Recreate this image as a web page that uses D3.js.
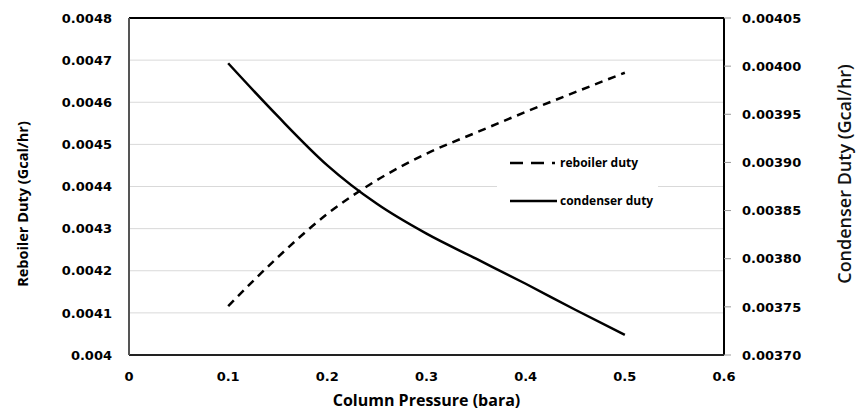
<!DOCTYPE html>
<html>
<head>
<meta charset="utf-8">
<script src="https://cdn.jsdelivr.net/npm/d3@7"></script>
<style>
  body { margin: 0; background: #fff; }
  svg { display: block; }
</style>
</head>
<body>
<div id="chart"></div>
<script>
// pressure points (bara)
var pressure = [0.1, 0.15, 0.2, 0.25, 0.3, 0.35, 0.4, 0.45, 0.5];
// reboiler duty (left axis, Gcal/hr)
var reboilerDuty = [0.004116, 0.004232, 0.004335, 0.004415, 0.004478, 0.004528, 0.004577, 0.004624, 0.00467];
// condenser duty (right axis, Gcal/hr)
var condenserDuty = [0.004003, 0.003948, 0.003897, 0.003857, 0.003826, 0.0038, 0.003774, 0.003747, 0.003721];

var xTicks = [0, 0.1, 0.2, 0.3, 0.4, 0.5, 0.6];
var leftTicks = [0.004, 0.0041, 0.0042, 0.0043, 0.0044, 0.0045, 0.0046, 0.0047, 0.0048];
var rightTicks = [0.0037, 0.00375, 0.0038, 0.00385, 0.0039, 0.00395, 0.004, 0.00405];

var seriesNames = ["reboiler duty", "condenser duty"];

const W = 856, H = 410;
const margin = {top: 18, right: 132, bottom: 55, left: 129};
const width = W - margin.left - margin.right,
      height = H - margin.top - margin.bottom;

const svg = d3.select("#chart").append("svg")
  .attr("width", W).attr("height", H);

const g = svg.append("g")
  .attr("transform", `translate(${margin.left},${margin.top})`);

// scales
const x = d3.scaleLinear().domain([0, 0.6]).range([0, width]);
const yL = d3.scaleLinear().domain([0.004, 0.0048]).range([height, 0]);
const yR = d3.scaleLinear().domain([0.0037, 0.00405]).range([height, 0]);

const tickFont = "'DejaVu Sans', Verdana, sans-serif";
const titleFont = "'Open Sans', 'Noto Sans', sans-serif";

// gridlines
g.append("g")
  .selectAll("line")
  .data(leftTicks.slice(1, -1))
  .join("line")
  .attr("x1", 0).attr("x2", width)
  .attr("y1", d => yL(d)).attr("y2", d => yL(d))
  .attr("stroke", "#d9d9d9").attr("stroke-width", 1);

// lines
const lineReb = d3.line()
  .x((d, i) => x(pressure[i]))
  .y(d => yL(d))
  .curve(d3.curveMonotoneX);
const lineCond = d3.line()
  .x((d, i) => x(pressure[i]))
  .y(d => yR(d))
  .curve(d3.curveMonotoneX);

g.append("path")
  .datum(reboilerDuty)
  .attr("d", lineReb)
  .attr("fill", "none")
  .attr("stroke", "#000")
  .attr("stroke-width", 2.5)
  .attr("stroke-dasharray", "8,6");

g.append("path")
  .datum(condenserDuty)
  .attr("d", lineCond)
  .attr("fill", "none")
  .attr("stroke", "#000")
  .attr("stroke-width", 2.5);

// frame
g.append("line").attr("x1", 0).attr("x2", width).attr("y1", 0).attr("y2", 0)
  .attr("stroke", "#000").attr("stroke-width", 2);
g.append("line").attr("x1", width).attr("x2", width).attr("y1", 0).attr("y2", height)
  .attr("stroke", "#000").attr("stroke-width", 2);
g.append("line").attr("x1", 0).attr("x2", width).attr("y1", height).attr("y2", height)
  .attr("stroke", "#222").attr("stroke-width", 2);
g.append("line").attr("x1", 0).attr("x2", 0).attr("y1", 0).attr("y2", height)
  .attr("stroke", "#555").attr("stroke-width", 2);

// left tick labels
g.append("g")
  .selectAll("text")
  .data(leftTicks)
  .join("text")
  .attr("x", -17)
  .attr("y", d => yL(d))
  .attr("dy", "0.36em")
  .attr("text-anchor", "end")
  .style("font-family", tickFont)
  .style("font-weight", "bold")
  .style("font-size", "13px")
  .text(d => d === 0.004 ? "0.004" : d3.format(".4f")(d));

// right axis ticks + labels
const rAxis = g.append("g");
rAxis.selectAll("line")
  .data(rightTicks)
  .join("line")
  .attr("x1", width).attr("x2", width + 7)
  .attr("y1", d => yR(d)).attr("y2", d => yR(d))
  .attr("stroke", "#999");
rAxis.selectAll("text")
  .data(rightTicks)
  .join("text")
  .attr("x", width + 18)
  .attr("y", d => yR(d))
  .attr("dy", "0.36em")
  .attr("text-anchor", "start")
  .style("font-family", tickFont)
  .style("font-weight", "bold")
  .style("font-size", "13px")
  .text(d => d3.format(".5f")(d));

// x tick labels
g.append("g")
  .selectAll("text")
  .data(xTicks)
  .join("text")
  .attr("x", d => x(d))
  .attr("y", height + 26)
  .attr("text-anchor", "middle")
  .style("font-family", tickFont)
  .style("font-weight", "bold")
  .style("font-size", "13px")
  .text(d => d === 0 ? "0" : d3.format(".1f")(d));

// axis titles
svg.append("text")
  .attr("x", margin.left + width / 2)
  .attr("y", 406)
  .attr("text-anchor", "middle")
  .style("font-family", titleFont)
  .style("font-weight", "bold")
  .style("font-size", "16px")
  .text("Column Pressure (bara)");

svg.append("text")
  .attr("transform", `translate(28,204) rotate(-90)`)
  .attr("text-anchor", "middle")
  .style("font-family", titleFont)
  .style("font-weight", "bold")
  .style("font-size", "14.5px")
  .text("Reboiler Duty (Gcal/hr)");

svg.append("text")
  .attr("transform", `translate(851,174) rotate(-90)`)
  .attr("text-anchor", "middle")
  .style("font-family", titleFont)
  .style("font-weight", "600")
  .style("font-size", "18px")
  .style("fill", "#111")
  .text("Condenser Duty (Gcal/hr)");

// legend
const legend = g.append("g")
  .attr("transform", `translate(${497 - margin.left},${150 - margin.top})`);
legend.append("rect")
  .attr("width", 161).attr("height", 72)
  .attr("fill", "#fff");
const items = legend.selectAll("g.item")
  .data(seriesNames)
  .join("g")
  .attr("class", "item")
  .attr("transform", (d, i) => `translate(0,${13 + i * 38})`);
items.append("line")
  .attr("x1", 13).attr("x2", 60)
  .attr("y1", 0).attr("y2", 0)
  .attr("stroke", "#000")
  .attr("stroke-width", 2.5)
  .attr("stroke-dasharray", (d, i) => i === 0 ? "13,8,13,8,3,100" : null);
items.append("text")
  .attr("x", 63)
  .attr("y", 0)
  .attr("dy", "0.35em")
  .style("font-family", titleFont)
  .style("font-weight", "bold")
  .style("font-size", "12px")
  .text(d => d);
</script>
</body>
</html>
